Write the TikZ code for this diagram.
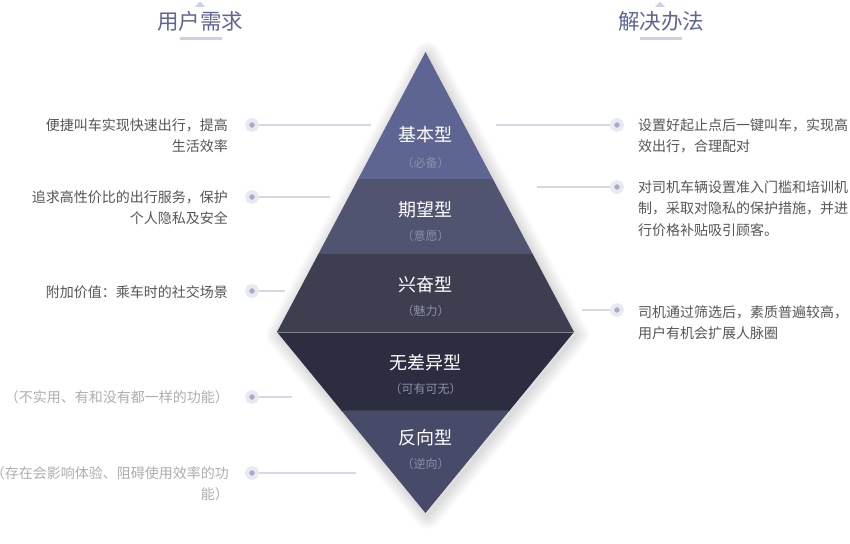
\documentclass[tikz,border=0pt]{standalone}
\usepackage{fontspec}
\setmainfont{Noto Sans CJK SC}
\usepackage{tikz}
\usetikzlibrary{positioning,calc}
\definecolor{head}{HTML}{5E6592}
\definecolor{headbar}{HTML}{CDD0E0}
\definecolor{basic}{HTML}{5E6592}
\definecolor{expect}{HTML}{505470}
\definecolor{excite}{HTML}{3D3F50}
\definecolor{indiff}{HTML}{2C2D40}
\definecolor{reverse}{HTML}{474A68}
\definecolor{dotc}{HTML}{A7ABC7}
\definecolor{haloc}{HTML}{E8E9F1}
\definecolor{linkc}{HTML}{D6D8E6}
\definecolor{txt}{HTML}{555555}
\definecolor{faint}{HTML}{ADADAD}
\definecolor{subc}{HTML}{8C8FA8}

\begin{document}
\begin{tikzpicture}[x=1pt,y=-1pt,
  dot/.style={circle,fill=dotc,draw=haloc,line width=4pt,minimum size=10pt,inner sep=0pt},
  link/.style={draw=linkc,line width=1.3pt},
  lefttext/.style={anchor=north east,align=right,inner sep=0pt,text=txt,font=\fontsize{14}{21.7}\selectfont},
  righttext/.style={anchor=north west,align=left,inner sep=0pt,text=txt,font=\fontsize{14}{21.7}\selectfont},
  title/.style={text=white,font=\fontsize{18}{20}\selectfont},
  sub/.style={text=subc,font=\fontsize{12}{14}\selectfont},
  header/.style={text=head,font=\fontsize{21.5}{23}\selectfont}]
\useasboundingbox (0,0) rectangle (850,543);

% pyramid corners
\coordinate (top) at (425.5,52);
\coordinate (bl) at (277,332);
\coordinate (br) at (574,332);
\coordinate (bot) at (425.5,513);
\coordinate (l1) at ($(top)!0.4536!(bl)$);
\coordinate (r1) at ($(top)!0.4536!(br)$);
\coordinate (l2) at ($(top)!0.7214!(bl)$);
\coordinate (r2) at ($(top)!0.7214!(br)$);
\coordinate (l3) at ($(bl)!0.431!(bot)$);
\coordinate (r3) at ($(br)!0.431!(bot)$);

% soft shadow
\foreach \w in {2,5,...,26}
  \draw[black,opacity=0.014,line width=\w pt,line join=round] ([shift={(2,3)}]top) -- ([shift={(2,3)}]br) -- ([shift={(2,3)}]bot) -- ([shift={(2,3)}]bl) -- cycle;

\fill[basic] (top) -- (r1) -- (l1) -- cycle;
\fill[expect] (l1) -- (r1) -- (r2) -- (l2) -- cycle;
\fill[excite] (l2) -- (r2) -- (br) -- (bl) -- cycle;
\fill[indiff] (bl) -- (br) -- (r3) -- (l3) -- cycle;
\fill[reverse] (l3) -- (r3) -- (bot) -- cycle;
\draw[white!35!excite,line width=0.8pt] (bl) -- (br);
\draw[white!8!indiff,line width=0.8pt] (l3) -- (r3);

% band labels
\node[title] (basic) at (425.5,135) {基本型};
\node[sub] (basicsub) at (425.5,163) {（必备）};
\node[title] (expect) at (425.5,210) {期望型};
\node[sub] (expectsub) at (425.5,236) {（意愿）};
\node[title] (excite) at (425.5,285) {兴奋型};
\node[sub] (excitesub) at (425.5,311) {（魅力）};
\node[title] (indiff) at (425.5,363) {无差异型};
\node[sub] (indiffsub) at (425.5,389) {（可有可无）};
\node[title] (reverse) at (425.5,438) {反向型};
\node[sub] (reversesub) at (425.5,464) {（逆向）};

% headers
\node[header] (need) at (200,21) {用户需求};
\node[header] (solve) at (661,21) {解决办法};
\fill[headbar] (195,7) -- (200,1.5) -- (205,7) -- cycle;
\fill[headbar] (180,37.5) rectangle (222,40.5);
\fill[headbar] (655,7) -- (660,1.5) -- (665,7) -- cycle;
\fill[headbar] (640,37.5) rectangle (682,40.5);

% left side
\node[dot] (ld1) at (252,125) {};
\node[dot] (ld2) at (252,197) {};
\node[dot] (ld3) at (252,291) {};
\node[dot] (ld4) at (252,397) {};
\node[dot] (ld5) at (252,473) {};
\coordinate (le1) at (371,125);
\coordinate (le2) at (330,197);
\coordinate (le3) at (285,291);
\coordinate (le4) at (292,397);
\coordinate (le5) at (356,473);
\foreach \i in {1,...,5}
  \draw[link] (ld\i) -- (le\i);
\node[lefttext] (lt1) at (228,118) {便捷叫车实现快速出行，提高\\生活效率};
\node[lefttext] (lt2) at (228,190) {追求高性价比的出行服务，保护\\个人隐私及安全};
\node[lefttext] (lt3) at (228,285) {附加价值：乘车时的社交场景};
\node[lefttext,text=faint] (lt4) at (229,390.5) {（不实用、有和没有都一样的功能）};
\node[lefttext,text=faint] (lt5) at (229,466) {（存在会影响体验、阻碍使用效率的功\\能）};

% right side
\node[dot] (rd1) at (617,125) {};
\node[dot] (rd2) at (617,187) {};
\node[dot] (rd3) at (617,310) {};
\coordinate (re1) at (496,125);
\coordinate (re2) at (537,187);
\coordinate (re3) at (582,310);
\foreach \i in {1,2,3}
  \draw[link] (rd\i) -- (re\i);
\node[righttext] (rt1) at (638,118) {设置好起止点后一键叫车，实现高\\效出行，合理配对};
\node[righttext] (rt2) at (638,180) {对司机车辆设置准入门槛和培训机\\制，采取对隐私的保护措施，并进\\行价格补贴吸引顾客。};
\node[righttext] (rt3) at (638,305) {司机通过筛选后，素质普遍较高，\\用户有机会扩展人脉圈};
\end{tikzpicture}
\end{document}
